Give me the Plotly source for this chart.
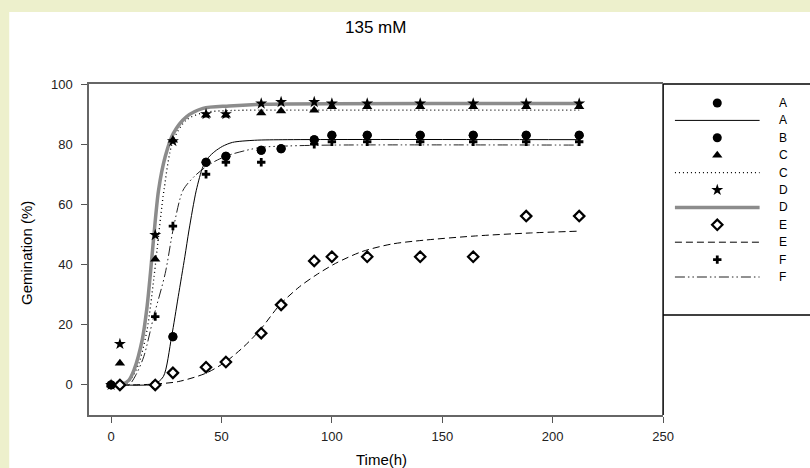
import plotly.graph_objects as go

# ---------------- data ----------------
times = [0, 4, 20, 28, 43, 52, 68, 77, 92, 100, 116, 140, 164, 188, 212]
A_obs = [0, 0, 0, 16, 74, 76, 78, 78.5, 81.5, 83, 83, 83, 83, 83, 83]
B_obs = [0, 0, 0, 16, 74, 76, 78, 78.5, 81.5, 83, 83, 83, 83, 83, 83]
C_obs = [0, 7.2, 41.8, 81.3, 89.6, 89.6, 90.4, 91, 91.3, 92.4, 92.4, 92.4, 92.4, 92.4, 92.4]
D_obs = [0, 13.6, 49.8, 81, 90, 90, 93.5, 94, 94, 93.5, 93.5, 93.5, 93.5, 93.5, 93.5]
E_obs = [None, 0, 0, 4, 5.9, 7.6, 17.2, 26.6, 41.2, 42.6, 42.6, 42.6, 42.6, 56.1, 56.1]
F_obs = [0, 0, 22.7, 52.8, 70, 74, 74, 78.5, 80, 80.8, 80.8, 80.8, 80.8, 80.8, 80.8]

# fitted curves
A_fit_t = [0, 18, 20, 23.7, 27.4, 30.4, 33.4, 35.3, 38.6, 41.6, 44, 47, 50.5, 55, 65, 80, 212]
A_fit_g = [0, 0, 0.3, 2.8, 16, 29.3, 42.6, 51.5, 64.7, 72.5, 75.5, 77.6, 79.3, 80.6, 81.3, 81.5, 81.5]
C_fit_t = [0, 6, 9, 12.6, 16.3, 19.3, 20.8, 24, 28, 34, 42, 55, 80, 212]
C_fit_g = [0, 0, 2, 7.2, 18.3, 35, 44.8, 65, 81, 88, 90.5, 91.2, 91.3, 91.3]
D_fit_t = [0, 5, 8, 10.4, 14.1, 16.3, 17.8, 19.3, 21.5, 24.5, 28.2, 34.1, 41.6, 53.5, 70, 212]
D_fit_g = [0, 0.2, 1.5, 5, 15, 26, 37, 49, 64.7, 75.8, 83.6, 89.1, 91.9, 92.7, 93.3, 93.5]
E_fit_t = [0, 10, 20, 30.4, 43, 51.9, 60.1, 67.5, 76.4, 85.3, 92.8, 101.7, 113.6, 127, 141.8, 165, 190, 212]
E_fit_g = [0, 0, 0.3, 1.1, 3.9, 7.7, 12.7, 18.3, 26.6, 32.6, 36.5, 40.4, 44.3, 46.8, 48.1, 49.5, 50.5, 51.1]
F_fit_t = [0, 8, 11, 14.8, 19.3, 24.5, 28.2, 32.6, 38, 43, 47.5, 53.5, 67.5, 80, 100, 212]
F_fit_g = [0, 0, 3, 9.4, 22.7, 37, 52, 64.7, 69.5, 72.5, 74.5, 76.4, 78.9, 79.4, 79.7, 79.7]

x_ticks = [0, 50, 100, 150, 200, 250]
y_ticks = [0, 20, 40, 60, 80, 100]
legend_labels = ["A", "A", "B", "C", "C", "D", "D", "E", "E", "F", "F"]

# ---------------- styles ----------------
FONT = "Arial, Liberation Sans, sans-serif"
BG = "#edf0cc"
W, H = 810, 468
ML, MR, MT, MB = 89, 0, 84, 53
PW = W - ML - MR
PH = H - MT - MB
PLOT_RIGHT = 672
dom_end = (PLOT_RIGHT - ML) / PW

def px_x(px):
    return (px - ML) / PW

def px_y(py):
    return (H - MB - py) / PH

circle = dict(symbol="circle", size=9, color="black")
tri = dict(symbol="triangle-up", size=9, color="black")
star = dict(symbol="star", size=9, color="black")
diam = dict(symbol="diamond", size=8, color="white", line=dict(color="black", width=2.2))
plus = dict(symbol="cross", size=7, color="black")

lineA = dict(color="black", width=1)
lineC = dict(color="black", width=1.3, dash="1px,3px")
lineD = dict(color="#8c8c8c", width=3.5)
lineE = dict(color="black", width=1, dash="7px,4px")
lineF = dict(color="#222222", width=1, dash="10px,3px,1.5px,3px,1.5px,3px")

fig = go.Figure()

# fitted curves
for t, g, ln in [(E_fit_t, E_fit_g, lineE), (F_fit_t, F_fit_g, lineF), (A_fit_t, A_fit_g, lineA),
                 (C_fit_t, C_fit_g, lineC), (D_fit_t, D_fit_g, lineD)]:
    fig.add_trace(go.Scatter(x=t, y=g, mode="lines", line=dict(shape="spline", smoothing=0.8, **ln),
                             showlegend=False, hoverinfo="skip"))

# observations
for obs, mk in [(F_obs, plus), (D_obs, star), (C_obs, tri), (B_obs, circle), (A_obs, circle), (E_obs, diam)]:
    fig.add_trace(go.Scatter(x=times, y=obs, mode="markers", marker=mk, showlegend=False))

# ---------------- manual legend on its own axes ----------------
legend_kinds = [("m", circle), ("l", lineA), ("m", circle), ("m", tri), ("l", lineC), ("m", star),
                ("l", lineD), ("m", diam), ("l", lineE), ("m", plus), ("l", lineF)]
for i, (kind, st) in enumerate(legend_kinds):
    if kind == "m":
        fig.add_trace(go.Scatter(x=[55], y=[i], mode="markers", marker=st, xaxis="x2", yaxis="y2",
                                 showlegend=False, hoverinfo="skip"))
    else:
        fig.add_trace(go.Scatter(x=[12, 98], y=[i, i], mode="lines", line=st, xaxis="x2", yaxis="y2",
                                 showlegend=False, hoverinfo="skip"))

annotations = []
for i, lab in enumerate(legend_labels):
    annotations.append(dict(x=116, y=i, xref="x2", yref="y2", text=lab, showarrow=False,
                            xanchor="left", yanchor="middle", font=dict(family=FONT, size=12, color="black")))

annotations += [
    dict(x=px_x(380), y=px_y(27), xref="paper", yref="paper", text="135 mM", showarrow=False,
         xanchor="center", yanchor="middle", font=dict(family=FONT, size=17, color="black")),
    dict(x=px_x(25), y=px_y(253), xref="paper", yref="paper", text="Gemination (%)", showarrow=False,
         textangle=-90, xanchor="center", yanchor="middle", font=dict(family=FONT, size=15, color="black")),
    dict(x=px_x(386), y=px_y(459), xref="paper", yref="paper", text="Time(h)", showarrow=False,
         xanchor="center", yanchor="middle", font=dict(family=FONT, size=15, color="black")),
]

shapes = [
    # white panel over textured background
    dict(type="rect", xref="paper", yref="paper", x0=px_x(8), x1=px_x(830), y0=px_y(490), y1=px_y(12),
         fillcolor="white", line=dict(width=0), layer="below"),
    # right frame / legend box
    dict(type="line", xref="paper", yref="paper", x0=dom_end, x1=dom_end, y0=0, y1=1,
         line=dict(color="black", width=1.5)),
    dict(type="line", xref="paper", yref="paper", x0=dom_end, x1=1.02, y0=1, y1=1,
         line=dict(color="black", width=1.5)),
    dict(type="line", xref="paper", yref="paper", x0=dom_end, x1=1.02, y0=px_y(315), y1=px_y(315),
         line=dict(color="black", width=1.5)),
]

axis_font = dict(family=FONT, size=13, color="#222222")
row_px = 17.4
top_val = -(103 - MT) / row_px
bot_val = top_val + PH / row_px

fig.update_layout(
    width=W, height=H,
    margin=dict(l=ML, r=MR, t=MT, b=MB),
    paper_bgcolor=BG,
    plot_bgcolor="white",
    showlegend=False,
    xaxis=dict(domain=[0, dom_end], range=[-10, 250], tickvals=x_ticks, ticks="outside", ticklen=6,
               tickcolor="#555555", showline=True, linecolor="#666666", linewidth=1.5, mirror=True,
               showgrid=False, zeroline=False, tickfont=axis_font, ticklabelstandoff=3),
    yaxis=dict(range=[-10, 100], tickvals=y_ticks, ticks="outside", ticklen=6, tickcolor="#555555",
               showline=True, linecolor="#666666", linewidth=1.5, showgrid=False, zeroline=False,
               tickfont=axis_font, ticklabelstandoff=6),
    xaxis2=dict(domain=[dom_end, 1], range=[0, PW - (PLOT_RIGHT - ML)], visible=False, anchor="y2"),
    yaxis2=dict(domain=[0, 1], range=[bot_val, top_val], visible=False, anchor="x2"),
    annotations=annotations,
    shapes=shapes,
)

fig.write_html(
    "out.html",
    config={"displayModeBar": False},
    post_script="document.body.style.margin='0';document.body.style.overflow='hidden';"
                "document.body.style.background='" + BG + "';",
)
